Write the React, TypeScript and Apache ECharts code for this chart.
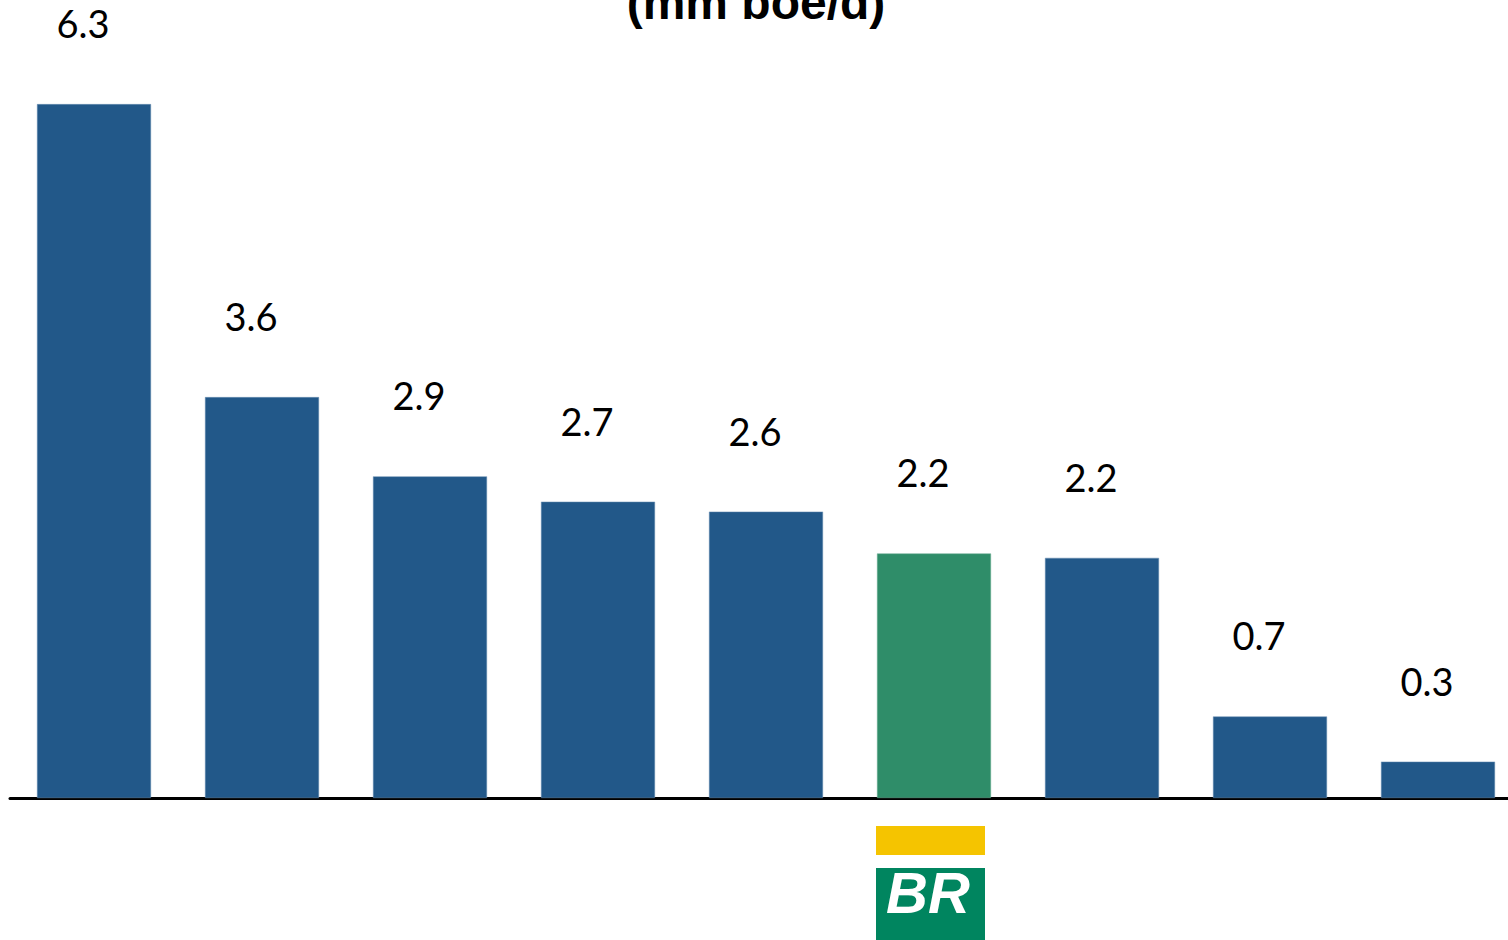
import React, { useEffect, useRef } from "react";
import * as echarts from "echarts";

const categories = ["Co. A", "Co. B", "Co. C", "Co. D", "Co. E", "Petrobras", "Co. G", "Co. H", "Co. I"];
const values = [6.3, 3.64, 2.92, 2.69, 2.6, 2.22, 2.18, 0.74, 0.33];
const highlight = "Petrobras";
const titleText = "(mm boe/d)";

const BLUE = "#225889";
const GREEN = "#2f8d69";

export default function App() {
  const ref = useRef<HTMLDivElement>(null);
  useEffect(() => {
    if (!ref.current) return;
    const chart = echarts.init(ref.current, undefined, { renderer: "svg" });
    chart.setOption({
      animation: false,
      backgroundColor: "#ffffff",
      grid: { left: 10, top: 27, width: 1512, height: 771 },
      xAxis: {
        type: "category",
        data: categories,
        axisLine: { show: true, lineStyle: { color: "#000000", width: 3 } },
        axisTick: { show: false },
        axisLabel: { show: false },
      },
      yAxis: {
        type: "value",
        min: 0,
        max: 7,
        show: false,
        splitLine: { show: false },
      },
      series: [
        {
          type: "bar",
          barWidth: 114,
          data: values.map((v, i) => ({
            value: v,
            itemStyle: {
              color: categories[i] === highlight ? GREEN : BLUE,
              borderColor: categories[i] === highlight ? "#6fae95" : "#6b8fb3",
              borderWidth: 0.5,
            },
          })),
          label: {
            show: true,
            position: "top",
            distance: 62,
            offset: [-11, 0],
            formatter: (p: any) => Number(p.value).toFixed(1),
            fontFamily: "Lato",
            fontSize: 38,
            color: "#000000",
          },
        },
      ],
      graphic: [
        {
          type: "text",
          x: 756,
          y: 2,
          style: {
            text: titleText,
            fontFamily: "Liberation Sans",
            fontWeight: "bold",
            fontSize: 48,
            fill: "#000000",
            align: "center",
            verticalAlign: "middle",
          },
        },
        {
          type: "rect",
          shape: { x: 876, y: 826, width: 109, height: 29 },
          style: { fill: "#f5c400" },
        },
        {
          type: "rect",
          shape: { x: 876, y: 868, width: 109, height: 72 },
          style: { fill: "#00855f" },
        },
        {
          type: "text",
          x: 928,
          y: 892,
          style: {
            text: "BR",
            fontFamily: "Liberation Sans",
            fontWeight: "bold",
            fontStyle: "italic",
            fontSize: 58,
            fill: "#ffffff",
            align: "center",
            verticalAlign: "middle",
          },
        },
      ],
    });
    return () => chart.dispose();
  }, []);
  return (
    <div
      style={{ position: "fixed", left: 0, top: 0, width: 1508, height: 940, overflow: "hidden" }}
    >
      <div ref={ref} style={{ width: 1530, height: 940 }} />
    </div>
  );
}
